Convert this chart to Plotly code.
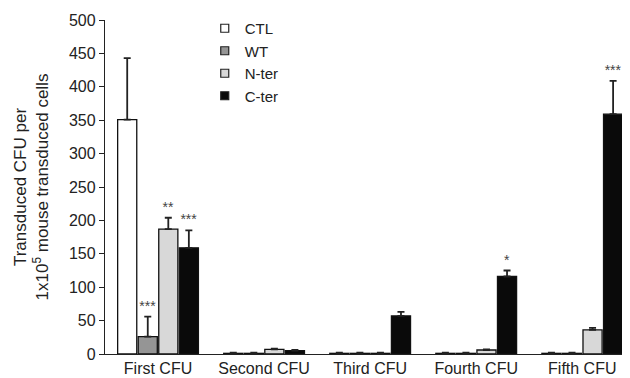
import plotly.graph_objects as go

categories = ["First CFU", "Second CFU", "Third CFU", "Fourth CFU", "Fifth CFU"]
series_names = ["CTL", "WT", "N-ter", "C-ter"]
ctl = [351, 1, 1, 1, 1]
ctl_err = [92, 1, 1, 1, 1]
wt = [26, 1, 1, 1, 1]
wt_err = [30, 1, 1, 1, 1]
nter = [187, 7, 1, 6, 36]
nter_err = [17, 1, 1, 1, 3]
cter = [159, 5, 57, 116, 359]
cter_err = [26, 1, 6, 9, 50]
stars_wt = ["***", "", "", "", ""]
stars_nter = ["**", "", "", "", ""]
stars_cter = ["***", "", "", "*", "***"]

values = [ctl, wt, nter, cter]
errors = [ctl_err, wt_err, nter_err, cter_err]
stars = [None, stars_wt, stars_nter, stars_cter]
colors = ["#ffffff", "#959595", "#d8d8d8", "#0a0a0a"]
FONT = "Liberation Sans, Arial, sans-serif"

fig = go.Figure()
for name, v, e, c in zip(series_names, values, errors, colors):
    fig.add_trace(go.Bar(
        x=categories, y=v, name=name, offsetgroup=name, showlegend=False,
        marker=dict(color=c, line=dict(color="#111111", width=1.3)),
        error_y=dict(type="data", array=e, arrayminus=[0]*len(e), symmetric=False,
                     color="#222222", thickness=1.8, width=3.5),
    ))
# legend entries (small square swatches)
for name, c in zip(series_names, colors):
    fig.add_trace(go.Scatter(
        x=[None], y=[None], mode="markers", name=name,
        marker=dict(symbol="square", size=8, color=c, line=dict(color="#222222", width=1.2)),
    ))
# significance stars above the error bars
for name, v, e, s in zip(series_names, values, errors, stars):
    if s is None:
        continue
    idx = [i for i, t in enumerate(s) if t]
    fig.add_trace(go.Bar(
        x=[categories[i] for i in idx], y=[v[i] + e[i] for i in idx],
        offsetgroup=name, showlegend=False,
        marker=dict(color="rgba(0,0,0,0)", line=dict(width=0)),
        text=[s[i] for i in idx], textposition="outside", cliponaxis=False,
        textfont=dict(size=14, color="#444444", family=FONT),
        hoverinfo="skip",
    ))

fig.update_layout(
    width=622, height=370,
    margin=dict(l=97, r=0, t=12, b=24),
    paper_bgcolor="white", plot_bgcolor="white",
    barmode="group", bargap=0.225, bargroupgap=0.07,
    font=dict(family=FONT, color="#222222", size=16),
    legend=dict(x=0.19, y=1.024, xanchor="left", yanchor="top",
                font=dict(size=15), tracegroupgap=0,
                bgcolor="rgba(0,0,0,0)"),
    xaxis=dict(range=[-0.5, 4.45], showline=True, linecolor="#222222", linewidth=1.3,
               ticks="", tickfont=dict(size=16), showgrid=False),
    yaxis=dict(range=[0, 500], dtick=50, showline=True, linecolor="#222222",
               linewidth=1.3, ticks="outside", ticklen=5, tickcolor="#222222",
               showgrid=False, zeroline=False, tickfont=dict(size=16),
               title=dict(text="Transduced CFU per<br>1x10<sup>5</sup> mouse transduced cells",
                          font=dict(size=17), standoff=15)),
)

fig.write_html("out.html")
